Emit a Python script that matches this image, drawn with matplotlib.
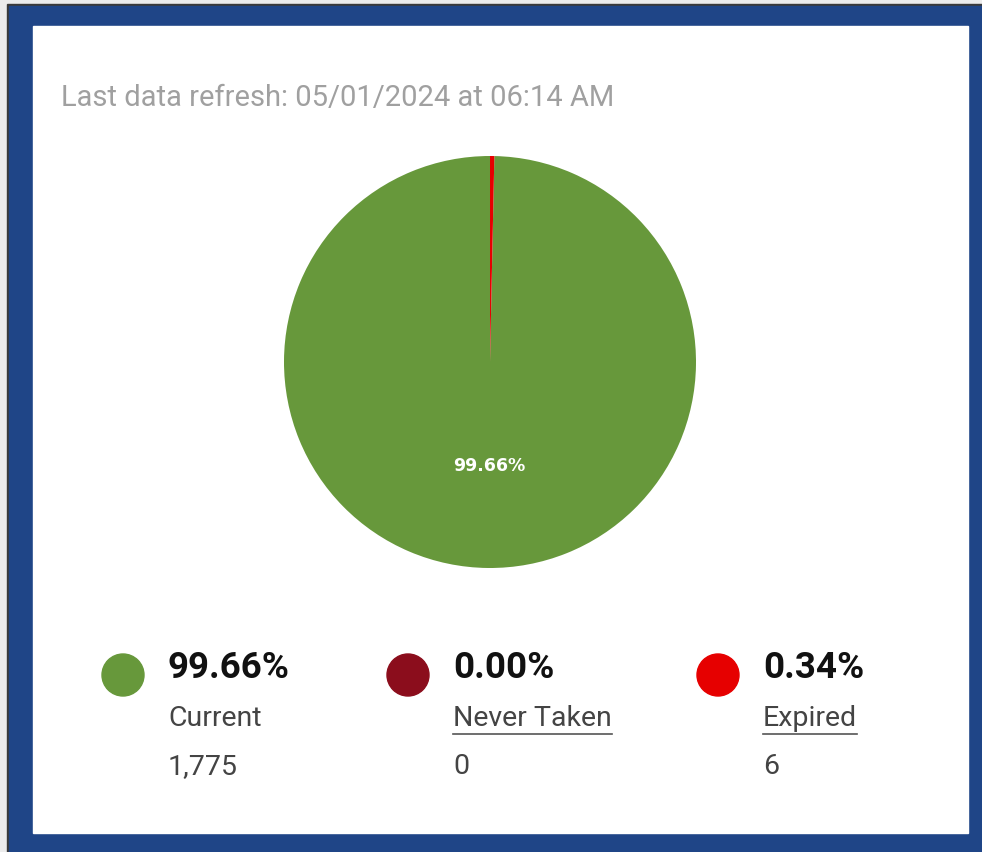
import matplotlib
matplotlib.use("Agg")
import matplotlib.pyplot as plt
from matplotlib.patches import Rectangle, Circle

# data
labels = ["Current", "Never Taken", "Expired"]
counts = [1775, 0, 6]
percents = ["99.66%", "0.00%", "0.34%"]
colors = ["#67983b", "#8b0d1c", "#e60000"]
underlined = [False, True, True]
refresh_text = "Last data refresh: 05/01/2024 at 06:14 AM"

W, H = 982, 853
fig = plt.figure(figsize=(W / 100, H / 100), dpi=100)

# background axes in pixel coordinates
bg = fig.add_axes([0, 0, 1, 1])
bg.set_xlim(0, W)
bg.set_ylim(H, 0)
bg.axis("off")

bg.add_patch(Rectangle((0, 0), W, H, color="#ececec", zorder=0))
bg.add_patch(Rectangle((7, 5), W - 7, H - 5, color="#3a3a3a", zorder=1))
bg.add_patch(Rectangle((9, 7), W - 9, H - 7, color="#1f4587", zorder=2))
bg.add_patch(Rectangle((33, 27), 968 - 33, 834 - 27, color="white", zorder=3))

bg.text(61, 98, refresh_text, fontsize=21, color="#a0a0a0",
        family="Roboto", va="center", ha="left", zorder=5)

# pie
cx, cy, r = 490, 363, 206
pie_ax = fig.add_axes([(cx - r) / W, 1 - (cy + r) / H, 2 * r / W, 2 * r / H])
total = sum(counts)
start = 90 - 360 * counts[2] / total
wedges, texts, autotexts = pie_ax.pie(
    counts, colors=colors, startangle=start, counterclock=False,
    autopct=lambda p: f"{p:.2f}%" if p > 50 else "", pctdistance=0.5,
    wedgeprops=dict(linewidth=0),
    textprops=dict(color="white", fontsize=12.5, family="DejaVu Sans", weight="bold"))
pie_ax.set_xlim(-1, 1)
pie_ax.set_ylim(-1, 1)
pie_ax.set_aspect("equal")
pie_ax.axis("off")

# legend
xs = [123, 408, 718]
fig.canvas.draw()
renderer = fig.canvas.get_renderer()
for i in range(len(labels)):
    x = xs[i]
    bg.add_patch(Circle((x, 676), 21, color=colors[i], zorder=5))
    bg.text(x + 45, 668, percents[i], fontsize=26.5, weight="bold", color="#111111",
            family="Roboto", va="center", ha="left", zorder=5)
    t = bg.text(x + 45, 719, labels[i], fontsize=20.5, color="#444444",
                family="Roboto", va="center", ha="left", zorder=5)
    bg.text(x + 45, 767, f"{counts[i]:,}", fontsize=20.5, color="#444444",
            family="Roboto", va="center", ha="left", zorder=5)
    if underlined[i]:
        bb = t.get_window_extent(renderer=renderer)
        bg.plot([x + 45, x + 45 + bb.width], [735, 735], color="#555555", lw=1.2, zorder=5)

fig.savefig("out.png", dpi=100)
